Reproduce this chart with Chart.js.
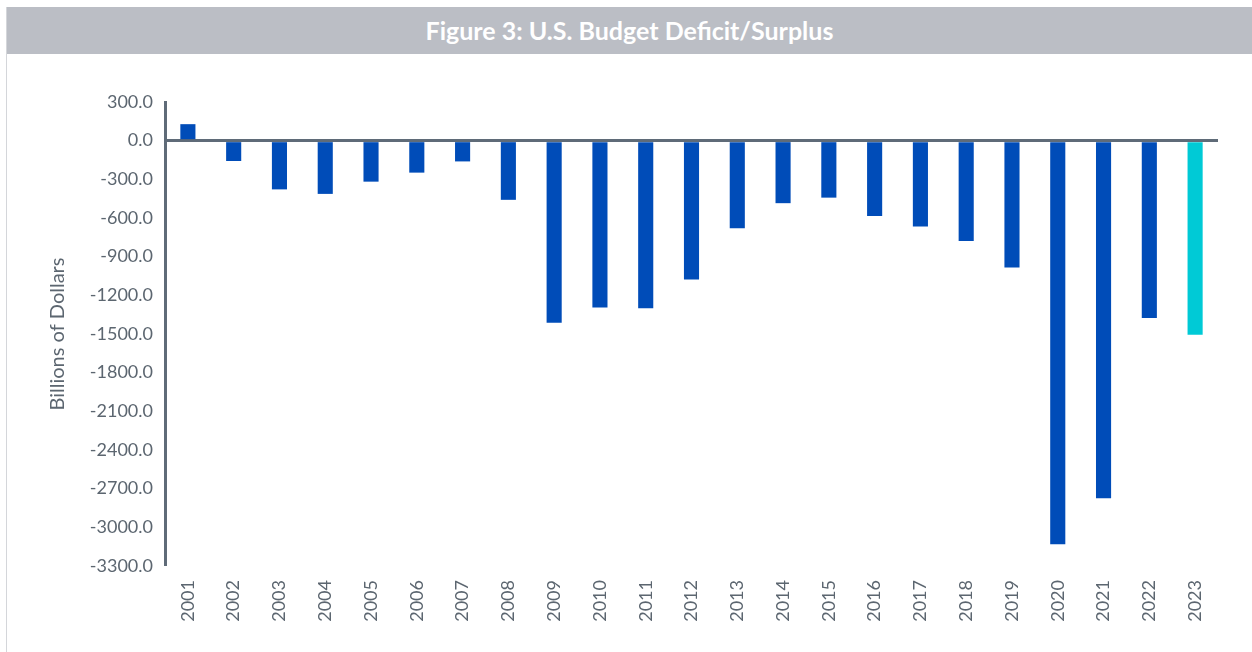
<!DOCTYPE html>
<html>
<head>
<meta charset="utf-8">
<script src="https://cdn.jsdelivr.net/npm/chart.js@4.4.0/dist/chart.umd.min.js"></script>
<style>
  html, body { margin: 0; padding: 0; background: #ffffff; }
  #wrap { position: relative; width: 1252px; height: 652px; overflow: hidden; }
  #leftline { position: absolute; left: 6px; top: 7px; width: 1px; height: 645px; background: #d4d6da; }
  #titlebar { position: absolute; left: 7px; top: 7px; width: 1245px; height: 47px; background: #bbbec5;
    color: #ffffff; font-family: Lato, "Noto Sans", sans-serif; font-weight: bold; font-size: 25px;
    text-align: center; line-height: 47px; }
  #c { position: absolute; left: 0; top: 0; }
</style>
</head>
<body>
<div id="wrap">
  <div id="leftline"></div>
  <div id="titlebar">Figure 3: U.S. Budget Deficit/Surplus</div>
  <canvas id="c" width="1252" height="652"></canvas>
</div>
<script>
const categories = ["2001","2002","2003","2004","2005","2006","2007","2008","2009","2010","2011","2012","2013","2014","2015","2016","2017","2018","2019","2020","2021","2022","2023"];
const deficitValues = [128, -158, -378, -413, -318, -248, -161, -459, -1413, -1294, -1300, -1077, -680, -485, -442, -585, -665, -779, -984, -3132, -2775, -1375, -1505];
const barColors = ["#004cb8","#004cb8","#004cb8","#004cb8","#004cb8","#004cb8","#004cb8","#004cb8","#004cb8","#004cb8","#004cb8","#004cb8","#004cb8","#004cb8","#004cb8","#004cb8","#004cb8","#004cb8","#004cb8","#004cb8","#004cb8","#004cb8","#00cad6"];
const yMin = -3300, yMax = 300, yStep = 300;
const axisTitle = "Billions of Dollars";

const textColor = "#5c6670";
const axisColor = "#5f6b78";

new Chart(document.getElementById("c"), {
  type: "bar",
  data: {
    labels: categories,
    datasets: [{
      data: deficitValues,
      backgroundColor: barColors,
      borderWidth: 0,
      categoryPercentage: 1,
      barPercentage: 0.33
    }]
  },
  options: {
    responsive: false,
    animation: false,
    events: [],
    layout: { padding: { top: 102, right: 34, left: 0, bottom: 0 } },
    plugins: { legend: { display: false }, tooltip: { enabled: false }, title: { display: false } },
    scales: {
      x: {
        grid: { display: false, drawTicks: false },
        border: { display: false },
        ticks: {
          color: textColor,
          font: { family: "Lato", size: 18 },
          minRotation: 90, maxRotation: 90,
          padding: 14,
          autoSkip: false
        },
        afterFit: (s) => { s.height = 86; }
      },
      y: {
        min: yMin, max: yMax,
        ticks: {
          stepSize: yStep,
          color: textColor,
          font: { family: "Lato", size: 18 },
          padding: 12,
          callback: (v) => Number(v).toFixed(1)
        },
        grid: {
          drawTicks: false,
          color: (ctx) => (ctx.tick && ctx.tick.value === 0) ? axisColor : "rgba(0,0,0,0)",
          lineWidth: (ctx) => (ctx.tick && ctx.tick.value === 0) ? 3 : 0
        },
        border: { display: true, color: axisColor, width: 3 },
        title: {
          display: true,
          text: axisTitle,
          color: textColor,
          font: { family: "Lato", size: 20 },
          padding: { top: 46, bottom: 0 }
        },
        afterFit: (s) => { s.width = 165; }
      }
    }
  }
});
</script>
</body>
</html>
